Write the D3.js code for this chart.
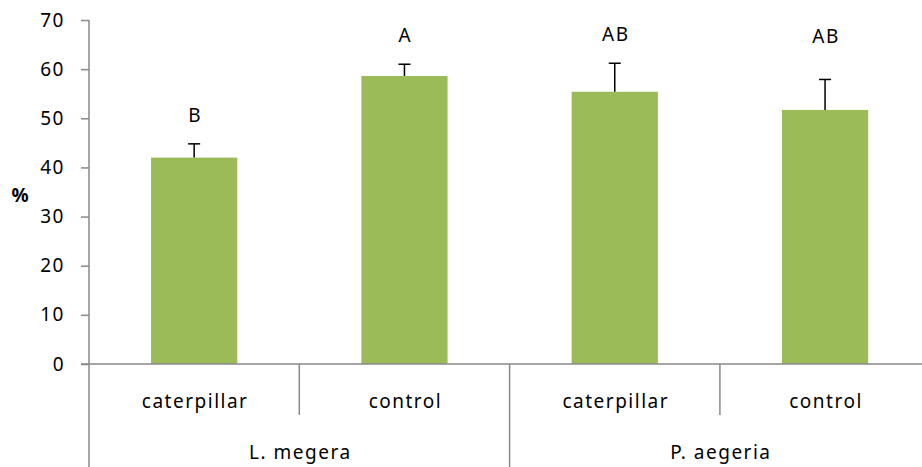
<!DOCTYPE html>
<html>
<head>
<meta charset="utf-8">
<script src="https://cdn.jsdelivr.net/npm/d3@7"></script>
<style>
  body { margin: 0; background: #fff; }
  text { font-family: "Noto Sans", sans-serif; font-size: 19px; fill: #000; letter-spacing: 1.5px; }
</style>
</head>
<body>
<div id="chart"></div>
<script>
// data
const groups = ['L. megera', 'P. aegeria'];
const treatments = ['caterpillar', 'control', 'caterpillar', 'control'];
const means = [42.0, 58.6, 55.4, 51.7];
const errors = [2.8, 2.4, 5.8, 6.2];
const letters = ['B', 'A', 'AB', 'AB'];
const letterPos = [49.2, 65.6, 65.8, 65.4];
const yTicks = [0, 10, 20, 30, 40, 50, 60, 70];

const W = 922, H = 467;
const plotLeft = 89, plotTop = 20, plotBottom = 364;
const step = 210.3;

const svg = d3.select('#chart').append('svg')
    .attr('width', W)
    .attr('height', H);

const x = d3.scaleBand()
    .domain(d3.range(treatments.length))
    .range([plotLeft, plotLeft + step * treatments.length]);

const xGroup = d3.scaleBand()
    .domain(groups)
    .range([plotLeft, plotLeft + step * treatments.length]);

const y = d3.scaleLinear().domain([0, 70]).range([plotBottom, plotTop]);

const barW = x.bandwidth() * 0.41;
const axisColor = '#898989';

// y axis
const yAxis = d3.axisLeft(y).tickValues(yTicks).tickSize(8).tickPadding(18);
const yAxisGroup = svg.append('g')
    .attr('transform', 'translate(' + plotLeft + ',0)')
    .call(yAxis);
yAxisGroup.select('.domain').remove();
yAxisGroup.selectAll('line').attr('stroke', axisColor).attr('stroke-width', 1.5);
yAxisGroup.selectAll('text')
    .attr('font-size', null)
    .attr('font-family', null)
    .attr('fill', '#000')
    .attr('dx', 2);

svg.append('line')
    .attr('x1', plotLeft).attr('x2', plotLeft)
    .attr('y1', y(70)).attr('y2', H)
    .attr('stroke', axisColor).attr('stroke-width', 1.5);

svg.append('text')
    .attr('x', 20)
    .attr('y', 202)
    .attr('text-anchor', 'middle')
    .style('font-weight', 'bold')
    .style('letter-spacing', '0px')
    .text('%');

// bars
svg.selectAll('rect.bar')
    .data(means)
    .enter()
    .append('rect')
    .attr('class', 'bar')
    .attr('x', (d, i) => x(i) + (x.bandwidth() - barW) / 2)
    .attr('y', d => y(d))
    .attr('width', barW)
    .attr('height', d => y(0) - y(d))
    .attr('fill', '#9bbb59');

// error bars
const err = svg.selectAll('g.err')
    .data(means)
    .enter()
    .append('g')
    .attr('class', 'err')
    .attr('transform', (d, i) => 'translate(' + (x(i) + x.bandwidth() / 2) + ',0)');
err.append('line')
    .attr('x1', 0).attr('x2', 0)
    .attr('y1', d => y(d))
    .attr('y2', (d, i) => y(d + errors[i]))
    .attr('stroke', '#000').attr('stroke-width', 1.5);
err.append('line')
    .attr('x1', -6).attr('x2', 6)
    .attr('y1', (d, i) => y(d + errors[i]))
    .attr('y2', (d, i) => y(d + errors[i]))
    .attr('stroke', '#000').attr('stroke-width', 1.5);

// letters
svg.selectAll('text.letter')
    .data(letters)
    .enter()
    .append('text')
    .attr('class', 'letter')
    .attr('x', (d, i) => x(i) + x.bandwidth() / 2 + 1)
    .attr('y', (d, i) => y(letterPos[i]))
    .attr('text-anchor', 'middle')
    .text(d => d);

// x axis line
svg.append('line')
    .attr('x1', plotLeft - 8).attr('x2', W)
    .attr('y1', y(0)).attr('y2', y(0))
    .attr('stroke', axisColor).attr('stroke-width', 1.5);

// dividers between treatments and groups
svg.selectAll('line.div')
    .data(d3.range(1, treatments.length))
    .enter()
    .append('line')
    .attr('class', 'div')
    .attr('x1', i => x(i)).attr('x2', i => x(i))
    .attr('y1', y(0))
    .attr('y2', i => (i % 2 === 0 ? H : 415))
    .attr('stroke', axisColor).attr('stroke-width', 1.5);

svg.selectAll('text.treat')
    .data(treatments)
    .enter()
    .append('text')
    .attr('class', 'treat')
    .attr('x', (d, i) => x(i) + x.bandwidth() / 2 + 1)
    .attr('y', 408)
    .attr('text-anchor', 'middle')
    .text(d => d);

svg.selectAll('text.group')
    .data(groups)
    .enter()
    .append('text')
    .attr('class', 'group')
    .attr('x', d => xGroup(d) + xGroup.bandwidth() / 2 + 1)
    .attr('y', 459)
    .attr('text-anchor', 'middle')
    .text(d => d);
</script>
</body>
</html>
